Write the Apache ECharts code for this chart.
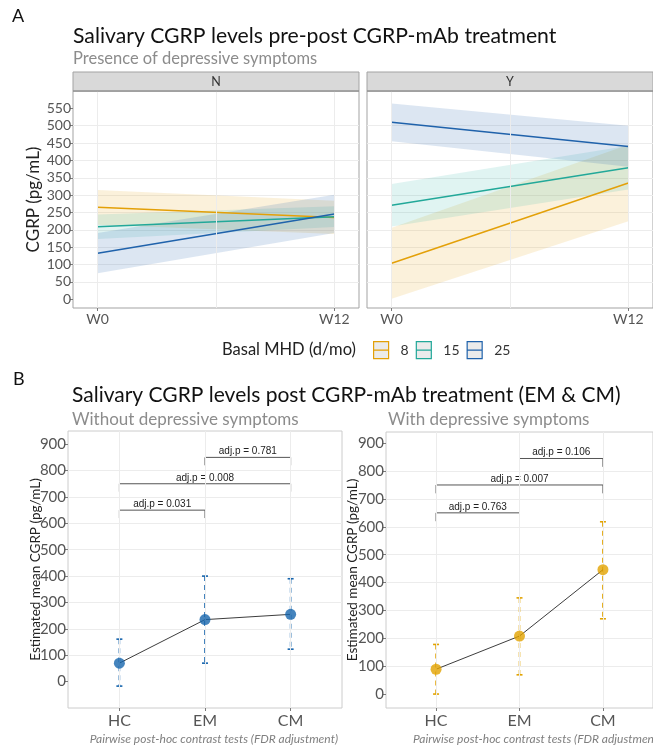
<!DOCTYPE html>
<html>
<head>
<meta charset="utf-8">
<script src="https://cdn.jsdelivr.net/npm/echarts@6/dist/echarts.min.js"></script>
<style>
  html, body { margin: 0; padding: 0; background: #ffffff; }
  #chart { width: 653px; height: 749px; }
</style>
</head>
<body>
<div id="chart"></div>
<script>
// ---------- Panel A: predicted CGRP at W0 / W12 by basal MHD ----------
const weeks = [0, 12];
const weekLabels = ['W0', 'W12'];
const facets = ['N', 'Y'];
const mhdGroups = ['8', '15', '25'];
const yTicksA = [0, 50, 100, 150, 200, 250, 300, 350, 400, 450, 500, 550];

// facet N (no depressive symptoms): one row per MHD group, [W0, W12]
const meanN = [[265, 236], [209, 238], [133, 246]];
const lowN = [[215, 188], [174, 208], [75, 191]];
const highN = [[315, 284], [244, 268], [191, 301]];
// facet Y (depressive symptoms)
const meanY = [[104, 335], [271, 379], [510, 440]];
const lowY = [[2, 225], [210, 316], [455, 382]];
const highY = [[206, 445], [332, 442], [564, 500]];

// ---------- Panel B: estimated mean CGRP by group ----------
const groupsB = ['HC', 'EM', 'CM'];
const yTicksB = [0, 100, 200, 300, 400, 500, 600, 700, 800, 900];
const estWithout = [70, 235, 255];
const lowWithout = [-17, 70, 123];
const highWithout = [161, 400, 390];
const estWith = [89, 208, 446];
const lowWith = [0, 69, 270];
const highWith = [178, 345, 618];
const pairs = [['HC', 'EM'], ['HC', 'CM'], ['EM', 'CM']];
const bracketWithout = [650, 750, 850];
const pWithout = ['0.031', '0.008', '0.781'];
const bracketWith = [650, 750, 845];
const pWith = ['0.763', '0.007', '0.106'];

const FONT = 'Lato, "Open Sans", sans-serif';
const lineColors = ['#E3A008', '#22A899', '#1F62AB'];
const bandColors = ['rgba(230,165,30,0.16)', 'rgba(45,180,165,0.15)', 'rgba(40,100,175,0.16)'];
const colWithout = '#1765AD';
const colWith = '#E2A300';

const chart = echarts.init(document.getElementById('chart'), null, { renderer: 'canvas' });

// ----- axes -----
const grids = [
  { left: 73, top: 91, width: 286, height: 217 },
  { left: 367, top: 91, width: 286, height: 217 },
  { left: 68, top: 431, width: 274, height: 277 },
  { left: 386, top: 432, width: 274, height: 276 }
].map((g, i) => Object.assign(g, {
  show: true,
  backgroundColor: '#ffffff',
  borderColor: i < 2 ? '#a3a3a3' : '#cccccc',
  borderWidth: 1
}));

const tickLabelStyle = { color: '#555555', fontFamily: FONT };
const hiddenLine = { show: false, onZero: false };

const xAxes = [];
const yAxes = [];
[0, 1].forEach(fi => {
  xAxes.push({
    gridIndex: fi, type: 'value', min: -1.25, max: 13.25,
    axisLine: hiddenLine, splitLine: { show: false },
    axisTick: { show: true, customValues: weeks, length: 3, lineStyle: { color: '#7a7a7a' } },
    axisLabel: Object.assign({ customValues: weeks, fontSize: 14, margin: 4,
      formatter: v => weekLabels[weeks.indexOf(v)] }, tickLabelStyle)
  });
  yAxes.push({
    gridIndex: fi, type: 'value', min: -25, max: 600, interval: 25,
    axisLine: hiddenLine,
    splitLine: { show: true, showMinLine: false, showMaxLine: false, lineStyle: { color: '#ececec', width: 1 } },
    axisTick: { show: fi === 0, customValues: yTicksA, length: 3, lineStyle: { color: '#7a7a7a' } },
    axisLabel: Object.assign({ show: fi === 0, customValues: yTicksA, fontSize: 14, margin: 2 }, tickLabelStyle),
    name: fi === 0 ? 'CGRP (pg/mL)' : '',
    nameLocation: 'middle', nameGap: 31, nameMoveOverlap: false,
    nameTextStyle: { fontSize: 17, color: '#222222', fontFamily: FONT }
  });
});
const bRanges = [[-100, 950], [-50, 940]];
const bNameGaps = [25, 26];
[2, 3].forEach((gi, k) => {
  xAxes.push({
    gridIndex: gi, type: 'value', min: 0.4, max: 3.6,
    axisLine: hiddenLine, splitLine: { show: false },
    axisTick: { show: true, customValues: [1, 2, 3], length: 3, lineStyle: { color: '#7a7a7a' } },
    axisLabel: Object.assign({ customValues: [1, 2, 3], fontSize: 16, margin: 5,
      formatter: v => groupsB[Math.round(v) - 1] }, tickLabelStyle)
  });
  yAxes.push({
    gridIndex: gi, type: 'value', min: bRanges[k][0], max: bRanges[k][1], interval: 50,
    axisLine: hiddenLine,
    splitLine: { show: true, showMinLine: false, showMaxLine: false, lineStyle: { color: '#ececec', width: 1 } },
    axisTick: { show: true, customValues: yTicksB, length: 3, lineStyle: { color: '#7a7a7a' } },
    axisLabel: Object.assign({ customValues: yTicksB, fontSize: 15, margin: 2 }, tickLabelStyle),
    name: 'Estimated mean CGRP (pg/mL)',
    nameLocation: 'middle', nameGap: bNameGaps[k], nameMoveOverlap: false,
    nameTextStyle: { fontSize: 13.5, color: '#222222', fontFamily: FONT }
  });
});

// ----- series -----
const series = [];

function vGrid(axisIndex, values) {
  const ls = { color: '#ececec', width: 1, type: 'solid' };
  return {
    type: 'line', xAxisIndex: axisIndex, yAxisIndex: axisIndex, data: [], z: 1, silent: true,
    markLine: {
      silent: true, symbol: 'none', label: { show: false }, lineStyle: ls,
      data: values.map(v => ({ xAxis: v, lineStyle: ls }))
    }
  };
}
series.push(vGrid(0, [0, 6, 12]), vGrid(1, [0, 6, 12]));
series.push(vGrid(2, [1, 2, 3]), vGrid(3, [1, 2, 3]));

// confidence bands + fitted lines for panel A
const facetData = [[meanN, lowN, highN], [meanY, lowY, highY]];
facetData.forEach(([means, lows, highs], fi) => {
  mhdGroups.forEach((g, gi) => {
    series.push({
      type: 'custom', name: g + ' band', xAxisIndex: fi, yAxisIndex: fi, z: 2, silent: true,
      data: [[weeks[0], lows[gi][0], highs[gi][0], weeks[1], lows[gi][1], highs[gi][1]]],
      encode: { x: [0, 3], y: [1, 2, 4, 5] },
      renderItem: (params, api) => ({
        type: 'polygon',
        shape: { points: [
          api.coord([api.value(0), api.value(1)]),
          api.coord([api.value(3), api.value(4)]),
          api.coord([api.value(3), api.value(5)]),
          api.coord([api.value(0), api.value(2)])
        ] },
        style: { fill: bandColors[gi] }
      })
    });
  });
  mhdGroups.forEach((g, gi) => {
    series.push({
      type: 'line', name: g, xAxisIndex: fi, yAxisIndex: fi, z: 3,
      symbol: 'none', color: lineColors[gi],
      lineStyle: { color: lineColors[gi], width: 1.5 },
      data: weeks.map((w, i) => [w, means[gi][i]])
    });
  });
});

// panel B: error bars, means, connecting line, comparison brackets
const panelB = [
  [estWithout, lowWithout, highWithout, bracketWithout, pWithout, colWithout],
  [estWith, lowWith, highWith, bracketWith, pWith, colWith]
];
panelB.forEach(([est, lo, hi, brY, pv, col], k) => {
  const ai = k + 2;
  series.push({
    type: 'custom', xAxisIndex: ai, yAxisIndex: ai, z: 3, silent: true,
    data: groupsB.map((g, i) => [i + 1, lo[i], hi[i]]),
    encode: { x: 0, y: [1, 2] },
    renderItem: (params, api) => {
      const top = api.coord([api.value(0), api.value(2)]);
      const bot = api.coord([api.value(0), api.value(1)]);
      const s = { stroke: col, lineWidth: 1.6 };
      return {
        type: 'group', children: [
          { type: 'line', shape: { x1: top[0], y1: top[1], x2: bot[0], y2: bot[1] },
            style: Object.assign({ lineDash: [5, 4] }, s) },
          { type: 'line', shape: { x1: top[0] - 3, y1: top[1], x2: top[0] + 3, y2: top[1] }, style: s },
          { type: 'line', shape: { x1: bot[0] - 3, y1: bot[1], x2: bot[0] + 3, y2: bot[1] }, style: s }
        ]
      };
    }
  });
  series.push({
    type: 'line', xAxisIndex: ai, yAxisIndex: ai, z: 4, symbol: 'none', silent: true,
    lineStyle: { color: '#3d3d3d', width: 1 },
    data: groupsB.map((g, i) => [i + 1, est[i]])
  });
  series.push({
    type: 'scatter', xAxisIndex: ai, yAxisIndex: ai, z: 5, symbolSize: 11, silent: true,
    itemStyle: { color: col },
    data: groupsB.map((g, i) => [i + 1, est[i]])
  });
  series.push({
    type: 'custom', xAxisIndex: ai, yAxisIndex: ai, z: 4, silent: true,
    data: pairs.map((p, i) => [groupsB.indexOf(p[0]) + 1, groupsB.indexOf(p[1]) + 1, brY[i], i]),
    encode: { x: [0, 1], y: 2 },
    renderItem: (params, api) => {
      const x1 = api.value(0), x2 = api.value(1), y = api.value(2);
      const a = api.coord([x1, y]), b = api.coord([x2, y]);
      const aL = api.coord([x1, y - 30]), bL = api.coord([x2, y - 30]);
      return {
        type: 'group', children: [
          { type: 'polyline', shape: { points: [aL, a, b, bL] },
            style: { stroke: '#555555', lineWidth: 1, fill: null } },
          { type: 'text', x: (a[0] + b[0]) / 2, y: a[1] - 1,
            style: { text: 'adj.p = ' + pv[api.value(3)], fill: '#222222',
              font: '10px "Liberation Sans", Arial, sans-serif', align: 'center', verticalAlign: 'bottom' } }
        ]
      };
    }
  });
});

// ----- titles, strips and captions -----
function txt(text, x, y, size, color, extra) {
  return { type: 'text', x: x, y: y, z: 20, silent: true,
    style: Object.assign({ text: text, fill: color, fontSize: size, fontFamily: FONT,
      align: 'left', verticalAlign: 'middle' }, extra || {}) };
}
const graphic = [
  // facet strips
  { type: 'rect', shape: { x: 73, y: 72, width: 286, height: 19 }, style: { fill: '#d9d9d9', stroke: '#a3a3a3', lineWidth: 1 }, z: 10 },
  { type: 'rect', shape: { x: 367, y: 72, width: 286, height: 19 }, style: { fill: '#d9d9d9', stroke: '#a3a3a3', lineWidth: 1 }, z: 10 },
  { type: 'line', shape: { x1: 73, y1: 91, x2: 359, y2: 91 }, style: { stroke: '#888888', lineWidth: 1.2 }, z: 11 },
  { type: 'line', shape: { x1: 367, y1: 91, x2: 653, y2: 91 }, style: { stroke: '#888888', lineWidth: 1.2 }, z: 11 },
  txt(facets[0], 216, 82, 12.5, '#333333', { align: 'center' }),
  txt(facets[1], 510, 82, 12.5, '#333333', { align: 'center' }),
  txt('A', 12, 16, 18, '#111111'),
  txt('Salivary CGRP levels pre-post CGRP-mAb treatment', 73, 36, 21.2, '#111111'),
  txt('Presence of depressive symptoms', 73, 59, 16.5, '#8c8c8c'),
  txt('Basal MHD (d/mo)', 222, 350, 16.5, '#222222'),
  txt('B', 13, 379, 18, '#111111'),
  txt('Salivary CGRP levels post CGRP-mAb treatment (EM & CM)', 72, 395, 21, '#111111'),
  txt('Without depressive symptoms', 72, 420, 17, '#8c8c8c'),
  txt('With depressive symptoms', 388, 420, 17, '#8c8c8c'),
  txt('Pairwise post-hoc contrast tests (FDR adjustment)', 338, 739, 12, '#7f7f7f', { align: 'right', fontStyle: 'italic' }),
  txt('Pairwise post-hoc contrast tests (FDR adjustment)', 413, 739, 12, '#7f7f7f', { fontStyle: 'italic' })
];

chart.setOption({
  animation: false,
  grid: grids,
  xAxis: xAxes,
  yAxis: yAxes,
  legend: {
    left: 368, top: 336, itemWidth: 15, itemHeight: 17, itemGap: 7, selectedMode: false,
    icon: 'path://M0 0H15V17H0Z M0 8.5H15',
    data: mhdGroups.map((g, i) => ({
      name: g,
      itemStyle: { color: '#ebebeb', borderColor: lineColors[i], borderWidth: 1.2 }
    })),
    textStyle: { fontSize: 14, color: '#333333', fontFamily: FONT, padding: [0, 0, 0, 7] }
  },
  graphic: graphic,
  series: series
});
</script>
</body>
</html>
